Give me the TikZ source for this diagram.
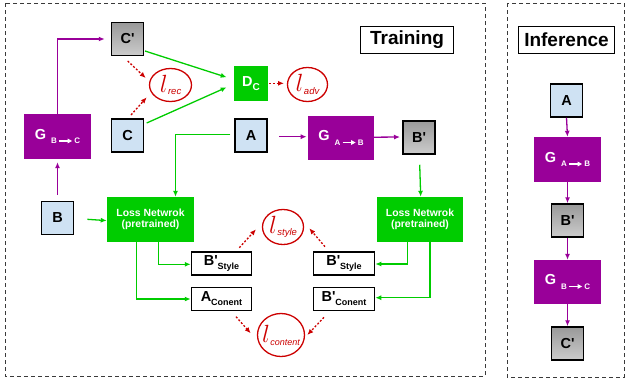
\documentclass[tikz,border=0pt]{standalone}
\usepackage{fontspec}
\setmainfont{Liberation Sans}
\usetikzlibrary{shapes.geometric,arrows.meta}
\definecolor{pur}{HTML}{990099}
\definecolor{grn}{HTML}{00CC00}
\definecolor{lblue}{HTML}{CFE2F3}
\definecolor{rd}{HTML}{CC0000}
\definecolor{gtop}{HTML}{999999}
\definecolor{gbot}{HTML}{CCCCCC}
\definecolor{dash}{HTML}{3A3A3A}
\newcommand\subarr{\tikz[baseline=0pt]\draw[line width=1.3pt, white, -{Triangle[length=4.5pt,width=4.5pt]}] (0pt,2.8pt) -- (13pt,2.8pt);}
\newcommand\gsub[2]{{\fontsize{14.5}{14.5}\selectfont G}\hspace{5pt}\raisebox{-4.5pt}{\fontsize{8}{8}\selectfont #1\hspace{1.5pt}\subarr\hspace{1.5pt}#2}}
\newcommand\lsym[1]{{\fontsize{24}{24}\selectfont$l$}\hspace{0.5pt}\raisebox{-2.5pt}{\itshape\mdseries\fontsize{9.5}{9.5}\selectfont #1}}
\newcommand\qt{\textquotesingle}
\begin{document}
\begin{tikzpicture}[x=1pt,y=-1pt,
  every node/.style={inner sep=0pt, font=\bfseries},
  inbox/.style={draw=black, line width=1.5pt, fill=lblue, minimum width=32pt, minimum height=33pt, font=\bfseries\fontsize{14.5}{14.5}\selectfont},
  outbox/.style={draw=black, line width=1.5pt, top color=gtop, bottom color=gbot, minimum width=32pt, minimum height=33pt, font=\bfseries\fontsize{14.5}{14.5}\selectfont},
  genbox/.style={fill=pur, text=white, minimum width=67pt, minimum height=45pt},
  lossbox/.style={fill=grn, text=white, minimum width=87pt, minimum height=45pt, align=center, font=\bfseries\fontsize{10.4}{11.5}\selectfont},
  featbox/.style={draw=black, line width=1.5pt, fill=white, minimum width=60pt, minimum height=23pt},
  lossell/.style={ellipse, draw=rd, line width=1.3pt, fill=white},
  ltext/.style={text=rd},
  titlebox/.style={draw=black, line width=1.5pt, fill=white, minimum height=27pt, font=\bfseries\fontsize{19}{19}\selectfont},
  parrow/.style={draw=pur, line width=1.3pt, -{Latex[length=6pt,width=5pt]}},
  garrow/.style={draw=grn, line width=1.3pt, -{Latex[length=6pt,width=5pt]}},
  rarrow/.style={draw=rd, line width=1.3pt, dash pattern=on 2pt off 1.8pt, -{Latex[length=6pt,width=5pt]}},
  frame/.style={draw=dash, line width=0.9pt, dash pattern=on 4pt off 3pt}
]
\useasboundingbox (0,0) rectangle (626,378);
\draw[frame] (5,3) rectangle (485,376);
\draw[frame] (507,3) rectangle (624,377);

% title boxes
\node[titlebox, minimum width=93pt] (train) at (407,40) {Training};
\node[titlebox, minimum width=96pt] (infer) at (566.5,40) {Inference};

% training nodes
\node[outbox] (Cp) at (127.5,39) {C\qt};
\node[lossell, minimum width=42pt, minimum height=33pt] (lrec) at (170.5,85) {};
\node[ltext] (lrect) at (lrec) {\lsym{rec}};
\node[fill=grn, text=white, minimum width=34pt, minimum height=35pt] (DC) at (251,83.5) {{\fontsize{14.5}{14.5}\selectfont D}\raisebox{-4pt}{\fontsize{10}{10}\selectfont C}};
\node[lossell, minimum width=40pt, minimum height=34pt] (ladv) at (307.5,84.5) {};
\node[ltext] (ladvt) at (ladv) {\lsym{adv}};
\node[genbox] (Gbc) at (57.5,136.5) {\gsub{B}{C}};
\node[inbox] (C) at (127.5,135.5) {C};
\node[inbox] (A) at (251,135.5) {A};
\node[genbox, minimum width=66pt, minimum height=44pt] (Gab) at (341,138) {\gsub{A}{B}};
\node[outbox] (Bp) at (419,137.5) {B\qt};
\node[inbox] (B) at (57.5,218) {B};
\node[lossbox] (lossL) at (150.5,219.5) {Loss Netwrok\\(pretrained)};
\node[lossbox, minimum width=86pt] (lossR) at (420,219.5) {Loss Netwrok\\(pretrained)};
\node[lossell, minimum width=41pt, minimum height=35pt] (lstyle) at (283,227) {};
\node[ltext] (lstylet) at (lstyle) {\lsym{style}};
\node[lossell, minimum width=47pt, minimum height=43pt] (lcont) at (281,335) {};
\node[ltext] (lcontt) at (lcont) {{\fontsize{24}{24}\selectfont$l$}\hspace{0.5pt}\raisebox{-3pt}{\itshape\mdseries\fontsize{9}{9}\selectfont content}};
\node[featbox] (bsL) at (221.5,263.5) {{\fontsize{14.5}{14.5}\selectfont B\qt}\raisebox{-4pt}{\fontsize{9}{9}\selectfont Style}};
\node[featbox] (acon) at (221.5,299) {{\fontsize{14.5}{14.5}\selectfont A}\raisebox{-4pt}{\fontsize{9}{9}\selectfont Conent}};
\node[featbox, minimum width=61pt] (bsR) at (344,263.5) {{\fontsize{14.5}{14.5}\selectfont B\qt}\raisebox{-4pt}{\fontsize{9}{9}\selectfont Style}};
\node[featbox, minimum width=61pt] (bcon) at (344,299) {{\fontsize{14.5}{14.5}\selectfont B\qt}\raisebox{-4pt}{\fontsize{9}{9}\selectfont Conent}};

% inference nodes
\node[inbox] (iA) at (566.5,100.5) {A};
\node[genbox] (iGab) at (567.5,159.5) {\gsub{A}{B}};
\node[outbox] (iBp) at (567.5,220.5) {B\qt};
\node[genbox, minimum height=44pt] (iGbc) at (567.5,282) {\gsub{B}{C}};
\node[outbox] (iCp) at (567.5,343.5) {C\qt};

% purple connectors
\draw[parrow] (Gbc.north) |- ([shift={(-6,0)}]Cp.west);
\draw[parrow] ([shift={(0,-6)}]B.north) -- ([shift={(0,3)}]Gbc.south);
\draw[parrow] ([shift={(28,1.2)}]A.center) -- ([shift={(-34.3,-1.3)}]Gab.center);
\draw[parrow] ([shift={(0,-0.8)}]Gab.east) -- ([shift={(-19,-0.5)}]Bp.center);
\draw[parrow] (iA.south) -- (iGab.north);
\draw[parrow] (iGab.south) -- (iBp.north);
\draw[parrow] (iBp.south) -- (iGbc.north);
\draw[parrow] (iGbc.south) -- (iCp.north);

% green connectors
\draw[garrow] ([shift={(17.5,12)}]Cp.center) -- ([shift={(-24.3,-6.2)}]DC.center);
\draw[garrow] ([shift={(19.2,-12.5)}]C.center) -- ([shift={(-24.3,3.8)}]DC.center);
\draw[garrow] ([shift={(-4,-1.2)}]A.west) -| ([shift={(25,0)}]lossL.north);
\draw[garrow] ([shift={(0.7,10)}]Bp.south) -- ([shift={(0.7,0)}]lossR.north);
\draw[garrow] ([shift={(29.8,1.3)}]B.center) -- ([shift={(0,1.1)}]lossL.west);
\draw[garrow] ([shift={(7.8,0)}]lossL.south) |- ([shift={(0,0.8)}]bsL.west);
\draw[garrow] ([shift={(-13.8,0)}]lossL.south) |- (acon.west);
\draw[garrow] ([shift={(-12.7,0)}]lossR.south) |- ([shift={(0,0.5)}]bsR.east);
\draw[garrow] ([shift={(10,0)}]lossR.south) |- ([shift={(0,-1.3)}]bcon.east);

% red dotted connectors
\draw[rarrow] ([shift={(0.2,22)}]Cp.center) -- ([shift={(-24.8,-7)}]lrec.center);
\draw[rarrow] ([shift={(3.5,-20.5)}]C.center) -- ([shift={(-23.8,12.3)}]lrec.center);
\draw[rarrow] ([shift={(18,-0.2)}]DC.center) -- ([shift={(-23.5,-1.2)}]ladv.center);
\draw[rarrow] ([shift={(17.8,-15.8)}]bsL.center) -- ([shift={(-27,2.3)}]lstyle.center);
\draw[rarrow] ([shift={(-19,-16.8)}]bsR.center) -- ([shift={(26.3,1.3)}]lstyle.center);
\draw[rarrow] ([shift={(14.5,17.7)}]acon.center) -- ([shift={(-30.3,-1.7)}]lcont.center);
\draw[rarrow] ([shift={(-20,18.3)}]bcon.center) -- ([shift={(26.3,0)}]lcont.center);
\end{tikzpicture}
\end{document}
